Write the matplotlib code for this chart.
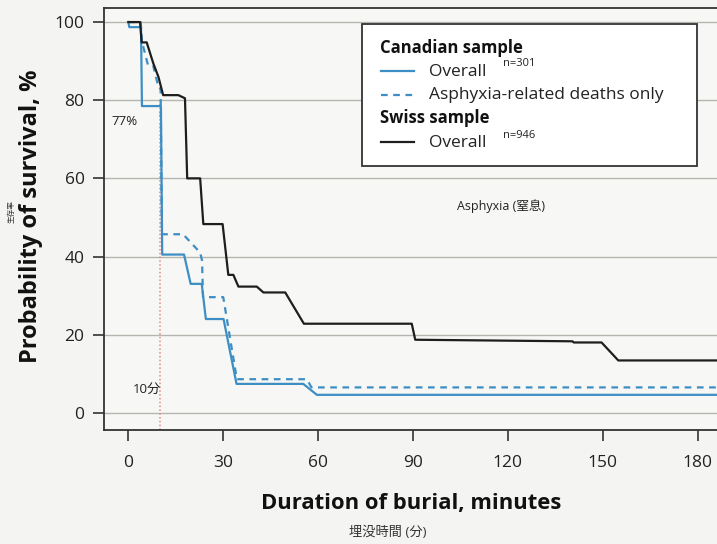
import matplotlib
matplotlib.use("Agg")
import matplotlib.pyplot as plt
from matplotlib.patches import Rectangle
from matplotlib.lines import Line2D

plt.rcParams['font.family'] = ['Open Sans', 'Noto Sans CJK JP', 'DejaVu Sans']

# --- data (minutes, survival %) ---
can_t = [0, 0.3, 4.0, 4.3, 10.3, 10.7, 17.6, 19.7, 23.2, 24.5, 30.1, 34.2, 55.3, 59.6, 190]
can_s = [100, 98.7, 98.7, 78.5, 78.5, 40.5, 40.5, 33, 33, 24, 24, 7.4, 7.4, 4.6, 4.6]

asp_t = [0, 3.9, 4.3, 6.2, 7.8, 9.6, 10.2, 10.6, 17.3, 22.7, 23.3, 23.6, 30.0, 34.3, 56.4, 57.9, 190]
asp_s = [100, 100, 95, 89, 89, 83, 83, 45.7, 45.7, 41, 39, 29.6, 29.6, 8.6, 8.6, 6.5, 6.5]

sw_t = [0, 3.7, 4.2, 5.8, 7.9, 9.5, 11.0, 15.8, 17.9, 18.6, 22.7, 23.7, 29.8, 31.6, 33.2,
        34.8, 40.6, 42.7, 49.6, 55.5, 89.6, 90.7, 140.4, 140.8, 149.6, 154.9, 190]
sw_s = [100, 100, 94.8, 94.8, 89.4, 86, 81.3, 81.3, 80.5, 60, 60, 48.3, 48.3, 35.3, 35.3,
        32.3, 32.3, 30.8, 30.8, 22.8, 22.8, 18.7, 18.3, 18, 18, 13.4, 13.4]

x_ticks = [0, 30, 60, 90, 120, 150, 180]
y_ticks = [0, 20, 40, 60, 80, 100]
marker_time = 10
marker_top = 80

BLUE = '#3d8ec4'
BLACK = '#1e1e1e'
BG = '#f4f4f2'

fig = plt.figure(figsize=(7.17, 5.44), dpi=100, facecolor=BG)
W, H = 717, 544
ax_left, ax_bottom_px, ax_top_px = 104, 430, 8
ppm = 3.163
xmin, xmax = -7.7, 190
ax_w = (xmax - xmin) * ppm
ax = fig.add_axes([ax_left / W, (H - ax_bottom_px) / H, ax_w / W, (ax_bottom_px - ax_top_px) / H])
ax.set_facecolor('#f7f7f5')
ax.set_xlim(xmin, xmax)
ax.set_ylim(-4.4, 103.6)

for y in y_ticks:
    ax.axhline(y, color='#b5b5b0', lw=1.0, zorder=1)

ax.plot([marker_time, marker_time], [-4.4, marker_top], color='#e08a8a', lw=1.1,
        linestyle=(0, (1, 1.5)), zorder=2)

ax.plot(sw_t, sw_s, color=BLACK, lw=1.6, zorder=4)
ax.plot(asp_t, asp_s, color=BLUE, lw=1.6, linestyle=(0, (3, 2.5)), zorder=3)
ax.plot(can_t, can_s, color=BLUE, lw=1.6, zorder=3)

ax.set_xticks(x_ticks)
ax.set_yticks(y_ticks)
ax.tick_params(axis='both', direction='out', length=8, width=1.2, color='#333333',
               labelsize=12.5, labelcolor='#222222')
ax.tick_params(axis='x', pad=10)
ax.tick_params(axis='y', pad=6)
for s in ax.spines.values():
    s.set_color('#333333')
    s.set_linewidth(1.3)

def fx(px):
    return px / W

def fy(py):
    return 1 - py / H

# axis titles
fig.text(fx(411), fy(503), 'Duration of burial, minutes', fontsize=15.8, fontweight='bold',
         ha='center', va='center', color='#111111')
fig.text(fx(31), fy(216), 'Probability of survival, %', fontsize=17, fontweight='bold',
         rotation=90, ha='center', va='center', color='#111111')

# annotations
ax.text(-5.5, 74.5, '77%', fontsize=9.5, color='#222222', va='center', ha='left')
ax.text(1.5, 6, '10分', fontsize=9.5, color='#222222', va='center', ha='left')
ax.text(104, 53, 'Asphyxia (窒息)', fontsize=9, color='#222222', va='center', ha='left')
fig.text(fx(12), fy(212), '生存率', fontsize=5.5, rotation=90, ha='center', va='center',
         color='#333333')
fig.text(fx(388), fy(532), '埋没時間 (分)', fontsize=9.5, ha='center', va='center',
         color='#333333')

# manual legend (figure pixel coordinates)
fig.patches.append(Rectangle((fx(362), fy(166)), fx(697) - fx(362), fy(24) - fy(166),
                             transform=fig.transFigure, facecolor='white',
                             edgecolor='#333333', lw=1.3, zorder=10))
lf = 12.5
bf = 12
fig.text(fx(380), fy(48), 'Canadian sample', fontsize=bf, fontweight='bold',
         va='center', ha='left', zorder=11, color='#111111')
fig.lines.append(Line2D([fx(381), fx(414)], [fy(71), fy(71)], transform=fig.transFigure,
                        color=BLUE, lw=1.6, zorder=11))
fig.text(fx(429), fy(72), 'Overall', fontsize=lf, va='center', ha='left', zorder=11,
         color='#222222')
fig.text(fx(503), fy(64), 'n=301', fontsize=8, va='center', ha='left', zorder=11,
         color='#222222')
fig.lines.append(Line2D([fx(381), fx(414)], [fy(95), fy(95)], transform=fig.transFigure,
                        color=BLUE, lw=1.6, linestyle=(0, (3, 2.5)), zorder=11))
fig.text(fx(429), fy(95), 'Asphyxia-related deaths only', fontsize=lf, va='center',
         ha='left', zorder=11, color='#222222')
fig.text(fx(380), fy(118), 'Swiss sample', fontsize=bf, fontweight='bold',
         va='center', ha='left', zorder=11, color='#111111')
fig.lines.append(Line2D([fx(381), fx(414)], [fy(142), fy(142)], transform=fig.transFigure,
                        color=BLACK, lw=1.6, zorder=11))
fig.text(fx(429), fy(143), 'Overall', fontsize=lf, va='center', ha='left', zorder=11,
         color='#222222')
fig.text(fx(503), fy(135), 'n=946', fontsize=8, va='center', ha='left', zorder=11,
         color='#222222')

fig.savefig('out.png', dpi=100, facecolor=BG)
